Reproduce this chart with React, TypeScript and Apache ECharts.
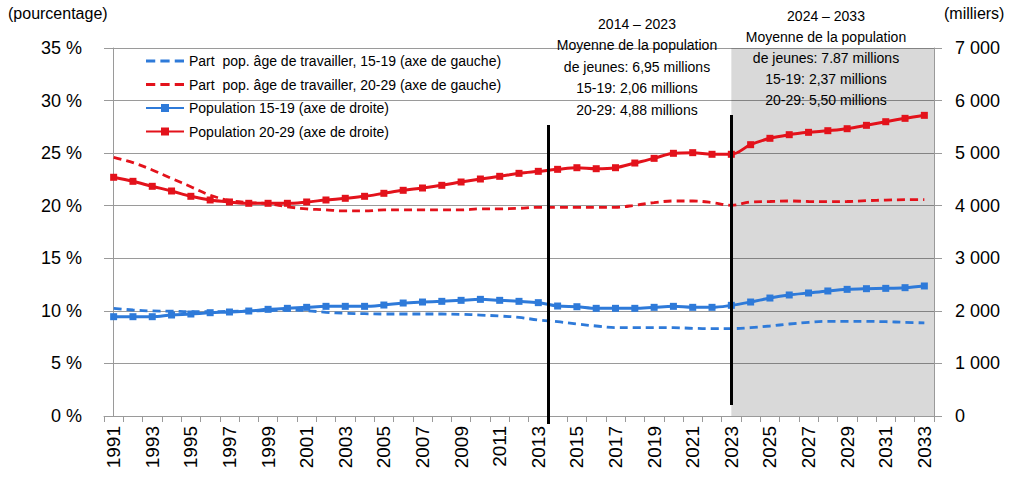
import React, { useEffect, useRef } from "react";
import * as echarts from "echarts";

// Years 1991–2033
const years: string[] = [
  "1991", "1992", "1993", "1994", "1995", "1996", "1997", "1998", "1999", "2000",
  "2001", "2002", "2003", "2004", "2005", "2006", "2007", "2008", "2009", "2010",
  "2011", "2012", "2013", "2014", "2015", "2016", "2017", "2018", "2019", "2020",
  "2021", "2022", "2023", "2024", "2025", "2026", "2027", "2028", "2029", "2030",
  "2031", "2032", "2033",
];

// Share of working-age population (%), left axis
const share1519: number[] = [
  10.24, 10.08, 9.99, 9.97, 9.92, 9.92, 9.95, 9.99, 10.02, 10.08,
  10.02, 9.86, 9.77, 9.73, 9.7, 9.7, 9.7, 9.7, 9.67, 9.6,
  9.51, 9.38, 9.13, 8.97, 8.75, 8.56, 8.4, 8.4, 8.4, 8.4,
  8.34, 8.31, 8.31, 8.4, 8.56, 8.75, 8.91, 9.0, 9.0, 9.0,
  8.97, 8.91, 8.85,
];
const share2029: number[] = [
  24.6, 24.1, 23.4, 22.6, 21.8, 21.0, 20.5, 20.3, 20.2, 19.9,
  19.7, 19.6, 19.5, 19.5, 19.6, 19.6, 19.6, 19.6, 19.6, 19.7,
  19.7, 19.75, 19.85, 19.85, 19.85, 19.85, 19.85, 20.04, 20.3, 20.45,
  20.45, 20.3, 20.04, 20.35, 20.4, 20.45, 20.4, 20.38, 20.4, 20.48,
  20.54, 20.57, 20.57,
];

// Population (thousands), right axis
const pop1519: number[] = [
  1889, 1889, 1889, 1921, 1940, 1965, 1978, 1997, 2029, 2048,
  2067, 2086, 2086, 2086, 2111, 2149, 2168, 2181, 2200, 2219,
  2200, 2181, 2156, 2092, 2079, 2048, 2048, 2048, 2067, 2086,
  2067, 2067, 2105, 2168, 2244, 2302, 2340, 2378, 2409, 2422,
  2428, 2441, 2473,
];
const pop2029: number[] = [
  4541, 4464, 4369, 4280, 4179, 4109, 4071, 4046, 4046, 4046,
  4071, 4109, 4141, 4179, 4236, 4293, 4337, 4388, 4451, 4508,
  4559, 4616, 4654, 4692, 4723, 4704, 4723, 4812, 4901, 4997,
  5009, 4978, 4978, 5161, 5282, 5351, 5396, 5427, 5465, 5529,
  5598, 5662, 5719,
];

const seriesNames: string[] = [
  "Part  pop. âge de travailler, 15-19 (axe de gauche)",
  "Part  pop. âge de travailler, 20-29 (axe de gauche)",
  "Population 15-19 (axe de droite)",
  "Population 20-29 (axe de droite)",
];

const periodNotes: string[] = [
  "2014 – 2023\nMoyenne de la population\nde jeunes: 6,95 millions\n15-19: 2,06 millions\n20-29: 4,88 millions",
  "2024 – 2033\nMoyenne de la population\nde jeunes: 7.87 millions\n15-19: 2,37 millions\n20-29: 5,50 millions",
];

const BLUE = "#2E7AD9";
const RED = "#E3121B";
const GRID = "#9a9a9a";
const FONT = "'Liberation Sans', Arial, sans-serif";
// three short dashes, used as the legend key of the dashed series
const DASH_ICON = "path://M0,0h9v3h-9z M14,0h9v3h-9z M28,0h9v3h-9z";

const fmtThousands = (v: number) => String(v).replace(/\B(?=(\d{3})+(?!\d))/g, " ");

export default function App() {
  const ref = useRef<HTMLDivElement>(null);

  useEffect(() => {
    if (!ref.current) return;
    const chart = echarts.init(ref.current, undefined, { renderer: "svg" });

    const n = years.length;
    const boundary2013 = years.indexOf("2013") + 0.5;
    const center2023 = years.indexOf("2023");

    const option: echarts.EChartsOption = {
      animation: false,
      backgroundColor: "#fff",
      textStyle: { fontFamily: FONT },
      grid: { left: 104, right: 93, top: 48, bottom: 67, containLabel: false },
      legend: {
        data: [
          { name: seriesNames[0], icon: DASH_ICON },
          { name: seriesNames[1], icon: DASH_ICON },
          { name: seriesNames[2] },
          { name: seriesNames[3] },
        ],
        orient: "vertical",
        left: 140,
        top: 48,
        itemWidth: 38,
        itemHeight: 10,
        itemGap: 7.5,
        textStyle: { fontSize: 14, color: "#000", fontFamily: FONT, lineHeight: 16 },
      },
      xAxis: [
        {
          type: "category",
          data: years,
          boundaryGap: true,
          axisLine: { lineStyle: { color: GRID, width: 1 } },
          axisTick: { show: true, interval: 0, length: 6, lineStyle: { color: GRID } },
          axisLabel: {
            interval: 1,
            rotate: 90,
            fontSize: 19,
            color: "#000",
            margin: 10,
            fontFamily: FONT,
          },
          splitLine: { show: false },
        },
        {
          type: "value",
          min: -0.5,
          max: n - 0.5,
          show: false,
          splitLine: { show: false },
        },
      ],
      yAxis: [
        {
          type: "value",
          min: 0,
          max: 35,
          interval: 5,
          position: "left",
          axisLine: { show: true, lineStyle: { color: GRID } },
          axisTick: { show: true, length: 7, lineStyle: { color: GRID } },
          axisLabel: {
            formatter: "{value} %",
            fontSize: 18,
            color: "#000",
            margin: 22,
            fontFamily: FONT,
          },
          splitLine: { show: true, lineStyle: { color: GRID, width: 1 } },
        },
        {
          type: "value",
          min: 0,
          max: 7000,
          interval: 1000,
          position: "right",
          axisLine: { show: true, lineStyle: { color: GRID } },
          axisTick: { show: true, length: 8, lineStyle: { color: GRID } },
          axisLabel: {
            formatter: (v: number) => fmtThousands(v),
            fontSize: 18,
            color: "#000",
            margin: 21,
            fontFamily: FONT,
          },
          splitLine: { show: false },
        },
      ],
      graphic: [
        {
          type: "text",
          left: 8,
          top: 5,
          z: 100,
          style: { text: "(pourcentage)", fill: "#000", font: `16px ${FONT}` },
        },
        {
          type: "text",
          left: 944,
          top: 5,
          z: 100,
          style: { text: "(milliers)", fill: "#000", font: `16px ${FONT}` },
        },
        {
          type: "text",
          x: 637,
          y: 13,
          z: 100,
          style: {
            text: periodNotes[0],
            font: `14px ${FONT}`,
            fill: "#000",
            align: "center",
            lineHeight: 21.5,
          },
        },
        {
          type: "text",
          x: 826,
          y: 5,
          z: 100,
          style: {
            text: periodNotes[1],
            font: `14px ${FONT}`,
            fill: "#000",
            align: "center",
            lineHeight: 21.2,
          },
        },
      ],
      series: [
        {
          name: seriesNames[0],
          type: "line",
          yAxisIndex: 0,
          data: share1519,
          smooth: 0.35,
          symbol: "none",
          lineStyle: { color: BLUE, width: 2.8, type: [8, 5] },
          itemStyle: { color: BLUE },
          z: 2,
        },
        {
          name: seriesNames[1],
          type: "line",
          yAxisIndex: 0,
          data: share2029,
          smooth: 0.35,
          symbol: "none",
          lineStyle: { color: RED, width: 2.8, type: [8, 5] },
          itemStyle: { color: RED },
          z: 2,
        },
        {
          name: seriesNames[2],
          type: "line",
          yAxisIndex: 1,
          data: pop1519,
          smooth: 0.35,
          symbol: "rect",
          symbolSize: 7,
          showSymbol: true,
          lineStyle: { color: BLUE, width: 3 },
          itemStyle: { color: BLUE },
          z: 3,
        },
        {
          name: seriesNames[3],
          type: "line",
          yAxisIndex: 1,
          data: pop2029,
          smooth: 0.35,
          symbol: "rect",
          symbolSize: 7,
          showSymbol: true,
          lineStyle: { color: RED, width: 3 },
          itemStyle: { color: RED },
          z: 3,
        },
        {
          // period shading and separators, placed on a continuous year-index axis
          name: "periodes",
          type: "line",
          xAxisIndex: 1,
          yAxisIndex: 1,
          data: [],
          silent: true,
          markArea: {
            silent: true,
            itemStyle: { color: "rgba(0,0,0,0.15)" },
            data: [[{ coord: [center2023, 7000] }, { coord: [n - 0.5, 0] }]],
          },
          markLine: {
            silent: true,
            symbol: "none",
            label: { show: false },
            lineStyle: { color: "#000", width: 3, type: "solid" },
            data: [
              [{ coord: [boundary2013, 5535] }, { coord: [boundary2013, 0], y: 424 }],
              [{ coord: [center2023, 5726] }, { coord: [center2023, 210] }],
            ],
          },
        },
      ],
    };

    chart.setOption(option);
    return () => chart.dispose();
  }, []);

  return (
    <div
      ref={ref}
      style={{ position: "fixed", left: 0, top: 0, width: 1027, height: 483, background: "#fff" }}
    />
  );
}
